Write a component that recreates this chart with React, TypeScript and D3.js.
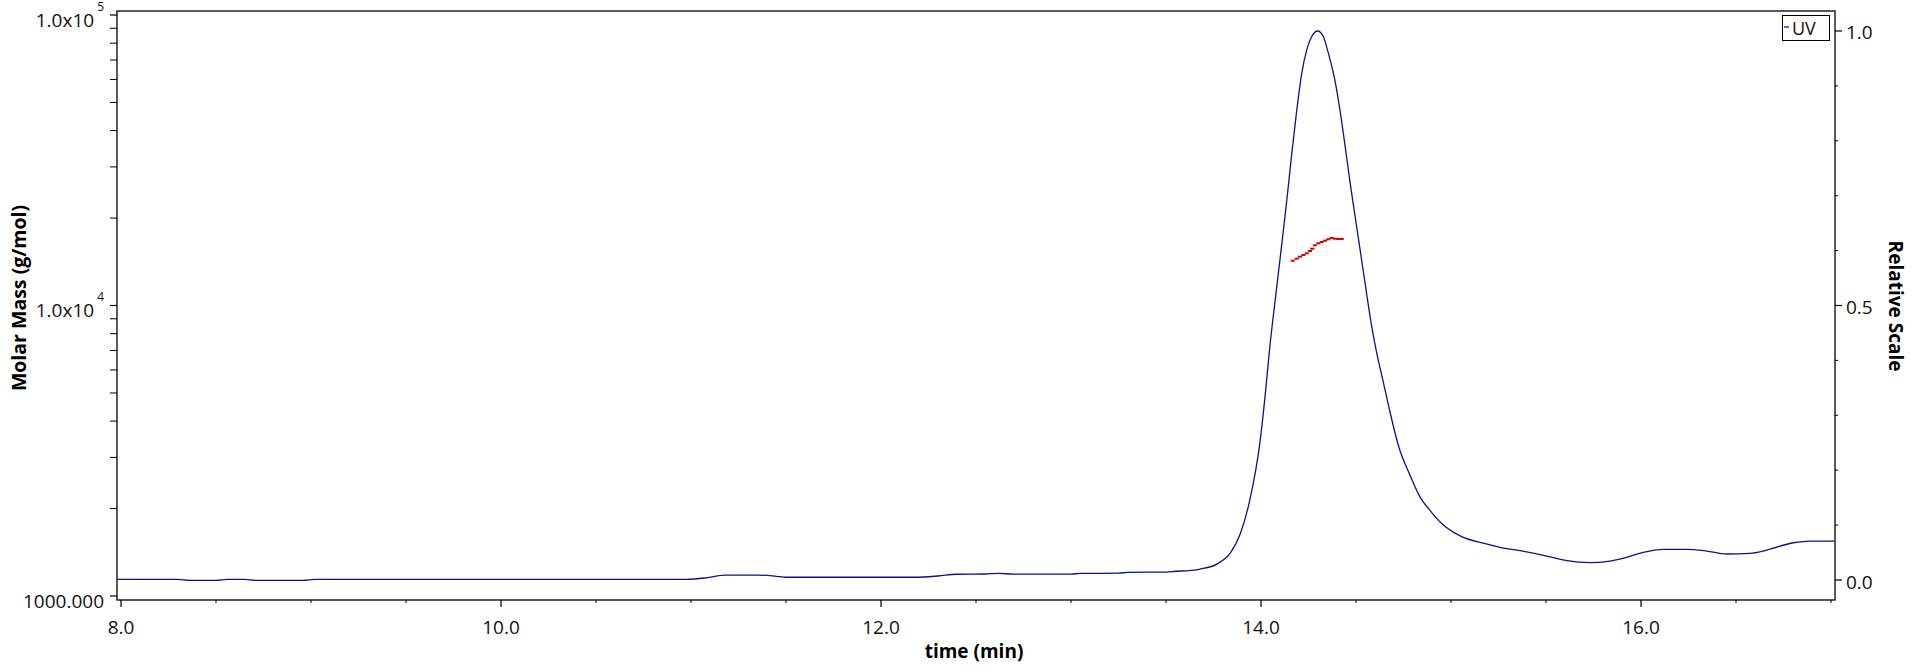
import React from "react";
import * as d3 from "d3";

// ---- data ----
const uvTime = [
  7.98, 8.3, 8.36, 8.5, 8.56, 8.65, 8.71, 8.96, 9.02, 10.98, 11.08, 11.18, 11.35, 11.45, 11.5, 12.18,
  12.3, 12.4, 12.55, 12.62, 12.7, 13.0, 13.05, 13.25, 13.3, 13.5, 13.55, 13.62, 13.68, 13.77, 13.84,
  13.89, 13.94, 13.995, 14.021, 14.047, 14.074, 14.1, 14.126, 14.144, 14.162, 14.188, 14.214, 14.241,
  14.267, 14.298, 14.328, 14.354, 14.389, 14.416, 14.442, 14.468, 14.495, 14.53, 14.556, 14.583,
  14.609, 14.644, 14.679, 14.723, 14.784, 14.837, 14.889, 14.951, 15.056, 15.17, 15.258, 15.363,
  15.504, 15.609, 15.732, 15.837, 15.925, 16.012, 16.117, 16.241, 16.346, 16.451, 16.574, 16.662,
  16.802, 16.889, 17.02,
];
const uvValue = [
  0.0013, 0.0013, -0.0005, -0.0005, 0.0013, 0.0013, -0.0005, -0.0005, 0.0013, 0.0013, 0.004, 0.009,
  0.009, 0.0068, 0.005, 0.005, 0.0073, 0.0105, 0.011, 0.012, 0.0108, 0.0108, 0.012, 0.0125, 0.014,
  0.0145, 0.016, 0.017, 0.02, 0.0295, 0.0497, 0.0834, 0.144, 0.252, 0.333, 0.427, 0.508, 0.584, 0.662,
  0.718, 0.777, 0.855, 0.922, 0.966, 0.99, 1.0, 0.99, 0.96, 0.91, 0.855, 0.792, 0.726, 0.663, 0.582,
  0.521, 0.461, 0.4135, 0.36, 0.306, 0.245, 0.191, 0.151, 0.127, 0.103, 0.079, 0.067, 0.0596, 0.0534,
  0.0437, 0.0352, 0.0315, 0.0346, 0.0413, 0.0505, 0.0559, 0.0559, 0.0528, 0.0474, 0.0486, 0.0546,
  0.0679, 0.071, 0.071,
];
const massTime = [
  14.167, 14.188, 14.205, 14.223, 14.241, 14.258, 14.27, 14.284, 14.302, 14.319, 14.337, 14.354,
  14.372, 14.389, 14.407, 14.425,
];
const massValue = [
  14265, 14494, 14723, 14921, 15125, 15403, 15686, 16114, 16372, 16543, 16715, 16900, 17076, 16982,
  16943, 16943,
];
const xMajorTicks = [8, 10, 12, 14, 16];
const rightMajorTicks = [0, 0.5, 1.0];
const leftMajorTicks = [1000, 10000, 100000];
const leftTickBase = ["1000.000", "1.0x10", "1.0x10"];
const leftTickExp = ["", "4", "5"];

const W = 1920;
const H = 672;
const L = 117, R = 1835, T = 11, B = 600;
const FONT = "'Open Sans', 'Noto Sans', sans-serif";
const BLUE = "#10108a";
const RED = "#d40000";

export default function App() {
  const x = d3.scaleLinear().domain([7.979, 17.021]).range([L, R]);
  const yL = d3.scaleLog().domain([968.8, 103220]).range([B, T]);
  const yR = d3.scaleLinear().domain([-0.0364, 1.0364]).range([B, T]);

  const uvData = uvTime.map((t, i) => [t, uvValue[i]] as [number, number]);
  const line = d3
    .line<[number, number]>()
    .x((d) => x(d[0]))
    .y((d) => yR(d[1]))
    .curve(d3.curveMonotoneX);

  const xMinor = d3.range(8, 17.01, 0.5).filter((v) => !xMajorTicks.includes(Math.round(v * 10) / 10));
  const rMinor = d3.range(0, 10.5, 1).map((v) => v / 10).filter((v) => !rightMajorTicks.some((m) => Math.abs(m - v) < 1e-6));
  const lMinor: number[] = [];
  for (const dec of [1000, 10000]) for (let k = 2; k <= 9; k++) lMinor.push(dec * k);

  return (
    <svg width={W} height={H} style={{ position: "absolute", left: 0, top: 0, background: "#fff" }} fontFamily={FONT}>
      <rect x={0} y={0} width={W} height={H} fill="#fff" />
      {/* UV trace */}
      <path d={line(uvData) || ""} fill="none" stroke={BLUE} strokeWidth={1.3} />
      {/* molar mass markers */}
      {massTime.map((t, i) => (
        <rect key={"m" + i} x={x(t) - 2} y={yL(massValue[i]) - 1} width={4} height={2} fill={RED} />
      ))}
      {/* frame */}
      <rect x={L} y={T} width={R - L} height={B - T} fill="none" stroke="#000" strokeWidth={1.3} />
      {/* x ticks */}
      {xMajorTicks.map((v) => (
        <g key={"xt" + v}>
          <line x1={x(v)} x2={x(v)} y1={B} y2={B + 7} stroke="#000" strokeWidth={1.2} />
          <text x={x(v)} y={634} fontSize={19} textAnchor="middle" fill="#111">
            {v.toFixed(1)}
          </text>
        </g>
      ))}
      {xMinor.map((v) => (
        <line key={"xm" + v} x1={x(v)} x2={x(v)} y1={B} y2={B + 3} stroke="#000" strokeWidth={1} />
      ))}
      {/* left ticks */}
      {leftMajorTicks.map((v, i) => (
        <g key={"lt" + v}>
          <line x1={L - 7} x2={L} y1={yL(v)} y2={yL(v)} stroke="#000" strokeWidth={1.2} />
          <text x={104} y={yL(v) + 12} fontSize={19} textAnchor="end" fill="#111">
            {leftTickBase[i]}
            {leftTickExp[i] ? (
              <tspan dx={3} dy={-16.5} fontSize={12}>
                {leftTickExp[i]}
              </tspan>
            ) : null}
          </text>
        </g>
      ))}
      {lMinor.map((v) => (
        <line key={"lm" + v} x1={L - 7} x2={L} y1={yL(v)} y2={yL(v)} stroke="#000" strokeWidth={1} />
      ))}
      {/* right ticks */}
      {rightMajorTicks.map((v) => (
        <g key={"rt" + v}>
          <line x1={R} x2={R + 7} y1={yR(v)} y2={yR(v)} stroke="#000" strokeWidth={1.2} />
          <text x={1846} y={yR(v) + 8.5} fontSize={19} textAnchor="start" fill="#111">
            {v.toFixed(1)}
          </text>
        </g>
      ))}
      {rMinor.map((v) => (
        <line key={"rm" + v} x1={R} x2={R + 3} y1={yR(v)} y2={yR(v)} stroke="#000" strokeWidth={1} />
      ))}
      {/* axis titles */}
      <text x={974} y={658} fontSize={19} fontWeight="bold" textAnchor="middle" fill="#000">
        time (min)
      </text>
      <text transform="translate(26,298) rotate(-90)" fontSize={19.5} fontWeight="bold" textAnchor="middle" fill="#000">
        Molar Mass (g/mol)
      </text>
      <text transform="translate(1889,306) rotate(90)" fontSize={19} fontWeight="bold" textAnchor="middle" fill="#000">
        Relative Scale
      </text>
      {/* legend */}
      <rect x={1782.5} y={15.5} width={47} height={25} fill="#fff" stroke="#000" strokeWidth={1} />
      <line x1={1784} x2={1789} y1={27} y2={27} stroke={BLUE} strokeWidth={1.3} />
      <text x={1792} y={35} fontSize={18} fill="#111">
        UV
      </text>
    </svg>
  );
}
